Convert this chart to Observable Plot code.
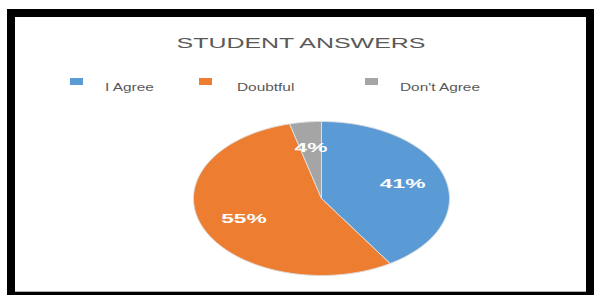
<!DOCTYPE html>
<html><head><meta charset="utf-8">
<script src="https://cdn.jsdelivr.net/npm/d3@7"></script>
<script src="https://cdn.jsdelivr.net/npm/@observablehq/plot@0.6"></script>
<style>
html,body{margin:0;padding:0;background:#fff;}
#page{position:relative;width:595px;height:295px;overflow:hidden;font-family:"Liberation Sans",Arial,sans-serif;}
#frame{position:absolute;left:7px;top:9px;width:587px;height:286px;box-sizing:border-box;border:8px solid #000;border-bottom-width:3px;box-shadow:inset 0 -1px 0 #b0b0b0;}
#title{position:absolute;left:0;top:36px;width:602px;text-align:center;font-size:14px;line-height:14px;color:#595959;transform:scaleX(1.78);transform-origin:301px 0;white-space:nowrap;}
.sw{position:absolute;top:78px;width:13px;height:7px;}
.lt{position:absolute;top:82px;font-size:11px;line-height:11px;color:#595959;white-space:nowrap;transform:scaleX(1.4);transform-origin:0 0;}
#chart{position:absolute;left:0;top:0;}
</style></head>
<body><div id="page"><div id="frame"></div><div id="title">STUDENT ANSWERS</div><div id="legend"></div><div id="chart"></div></div>
<script>
const categories = ["I Agree", "Doubtful", "Don't Agree"];
const values = [41, 55, 4];
const percentLabels = ["41%", "55%", "4%"];
const colors = ["#5B9BD5", "#ED7D31", "#A5A5A5"];
// legend layout (pixel positions of each swatch / text start)
const legendSwatchX = [70, 199, 365];
const legendTextX = [105, 237, 400];

const legend = document.getElementById("legend");
categories.forEach((c, i) => {
  const s = document.createElement("div");
  s.className = "sw"; s.style.left = legendSwatchX[i] + "px"; s.style.background = colors[i];
  legend.appendChild(s);
  const t = document.createElement("div");
  t.className = "lt"; t.style.left = legendTextX[i] + "px"; t.textContent = c;
  legend.appendChild(t);
});

const arcs = d3.pie().sort(null).value(d => d)(values);
const pts = [];
arcs.forEach((a, i) => {
  pts.push({k: categories[i], x: 0, y: 0});
  const n = Math.max(2, Math.ceil((a.endAngle - a.startAngle) / 0.01));
  for (let j = 0; j <= n; j++) {
    const t = a.startAngle + (a.endAngle - a.startAngle) * j / n;
    pts.push({k: categories[i], x: Math.sin(t), y: Math.cos(t)});
  }
  pts.push({k: categories[i], x: 0, y: 0});
});
const labelPts = arcs.map((a, i) => {
  const m = (a.startAngle + a.endAngle) / 2;
  return {text: percentLabels[i], x: 0.66 * Math.sin(m), y: 0.66 * Math.cos(m)};
});

const chart = Plot.plot({
  width: 595, height: 295, margin: 0,
  style: {background: "transparent", fontFamily: "Liberation Sans, Arial, sans-serif"},
  x: {domain: [-1, 1], range: [193, 449], axis: null},
  y: {domain: [-1, 1], range: [275, 121], axis: null},
  color: {domain: categories, range: colors},
  marks: [
    Plot.line(pts, {x: "x", y: "y", z: "k", fill: "k", stroke: "#dedede", strokeWidth: 1, strokeLinejoin: "round"}),
    Plot.text(labelPts, {x: "x", y: "y", text: "text", fill: "white", fontSize: 13, fontWeight: "bold"})
  ]
});
chart.querySelectorAll('g[aria-label="text"] text').forEach(t => {
  const tr = t.getAttribute("transform");
  if (tr) t.setAttribute("transform", tr + " scale(1.75,1)");
  else {
    const x = t.getAttribute("x") || 0, y = t.getAttribute("y") || 0;
    t.removeAttribute("x"); t.removeAttribute("y");
    t.setAttribute("transform", `translate(${x},${y}) scale(1.75,1)`);
  }
});
document.getElementById("chart").appendChild(chart);
</script>
</body></html>
